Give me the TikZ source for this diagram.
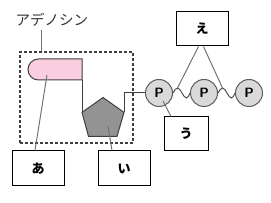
\documentclass[tikz,border=0pt]{standalone}
\usepackage{fontspec}
\newfontfamily\jpfont{Noto Sans CJK JP}
\usetikzlibrary{calc}
\definecolor{ribosepink}{HTML}{F9CFE0}
\definecolor{linegray}{HTML}{737373}
\definecolor{darkline}{HTML}{3F3F3F}
\begin{document}
\begin{tikzpicture}[x=1pt, y=-1pt,
    tag/.style={draw=black, line width=1pt, minimum width=52pt, minimum height=35pt,
        font=\jpfont\bfseries\fontsize{13}{15}\selectfont},
    lead/.style={linegray, line width=1pt},
    phos/.style={circle, draw=darkline!85, fill=gray!30, line width=1pt, minimum size=27pt,
        inner sep=0pt, font=\sffamily\bfseries\fontsize{13.5}{15}\selectfont}]
    \useasboundingbox (0,0) rectangle (271,203);

    % adenosine
    \node[text=black!80, font=\jpfont\fontsize{14.5}{16}\selectfont] (aden) at (52,20) {アデノシン};
    \node[draw=darkline, dash pattern=on 3pt off 2pt, line width=1.1pt, minimum width=113pt, minimum height=91pt] (adenbox) at (76.5,97.5) {};
    \draw[lead] (aden.south -| 41,0) -- (adenbox.north -| 41,0);

    \draw[darkline, fill=ribosepink, line width=1pt] (82,59) -- (38.5,59) arc (270:90:10.5) -- (82,80) -- cycle;
    \draw[darkline, line width=1pt] (82,80) -- (82,112);
    \draw[darkline, fill=gray!85, line width=1pt] (103,97.5) -- (124,112.4) -- (117,136.4) -- (88.5,136.4) -- (82,112.4) -- cycle;

    % phosphate chain
    \node[phos] (p1) at (159,93) {P};
    \node[phos] (p2) at (204,93) {P};
    \node[phos] (p3) at (249,93) {P};
    \draw[darkline, line width=1pt] (124,112.4) |- (p1.west);
    \draw[darkline, line width=0.9pt] (p1.east) sin ++(4.5,-5) coordinate (w1) cos ++(4.5,5) sin ++(4.5,5) cos (p2.west);
    \draw[darkline, line width=0.9pt] (p2.east) sin ++(4.5,-5) coordinate (w2) cos ++(4.5,5) sin ++(4.5,5) cos (p3.west);

    % labels
    \node[tag] (a) at (38,168.5) {あ};
    \node[tag] (i) at (124,168.5) {い};
    \node[tag, minimum width=44pt, minimum height=34pt] (u) at (186,134) {う};
    \node[tag, minimum height=34pt] (e) at (202,29) {え};

    \draw[lead] (47,75) -- (a.north -| 35,0);
    \draw[lead] (108,126) -- (i.north -| 112,0);
    \draw[lead] ($(p1)+(4,8)$) -- (u.north -| 171,0);
    \draw[lead] ($(e.south)+(-3.5,0)$) -- (w1);
    \draw[lead] ($(e.south)+(1.5,0)$) -- (w2);
\end{tikzpicture}
\end{document}
